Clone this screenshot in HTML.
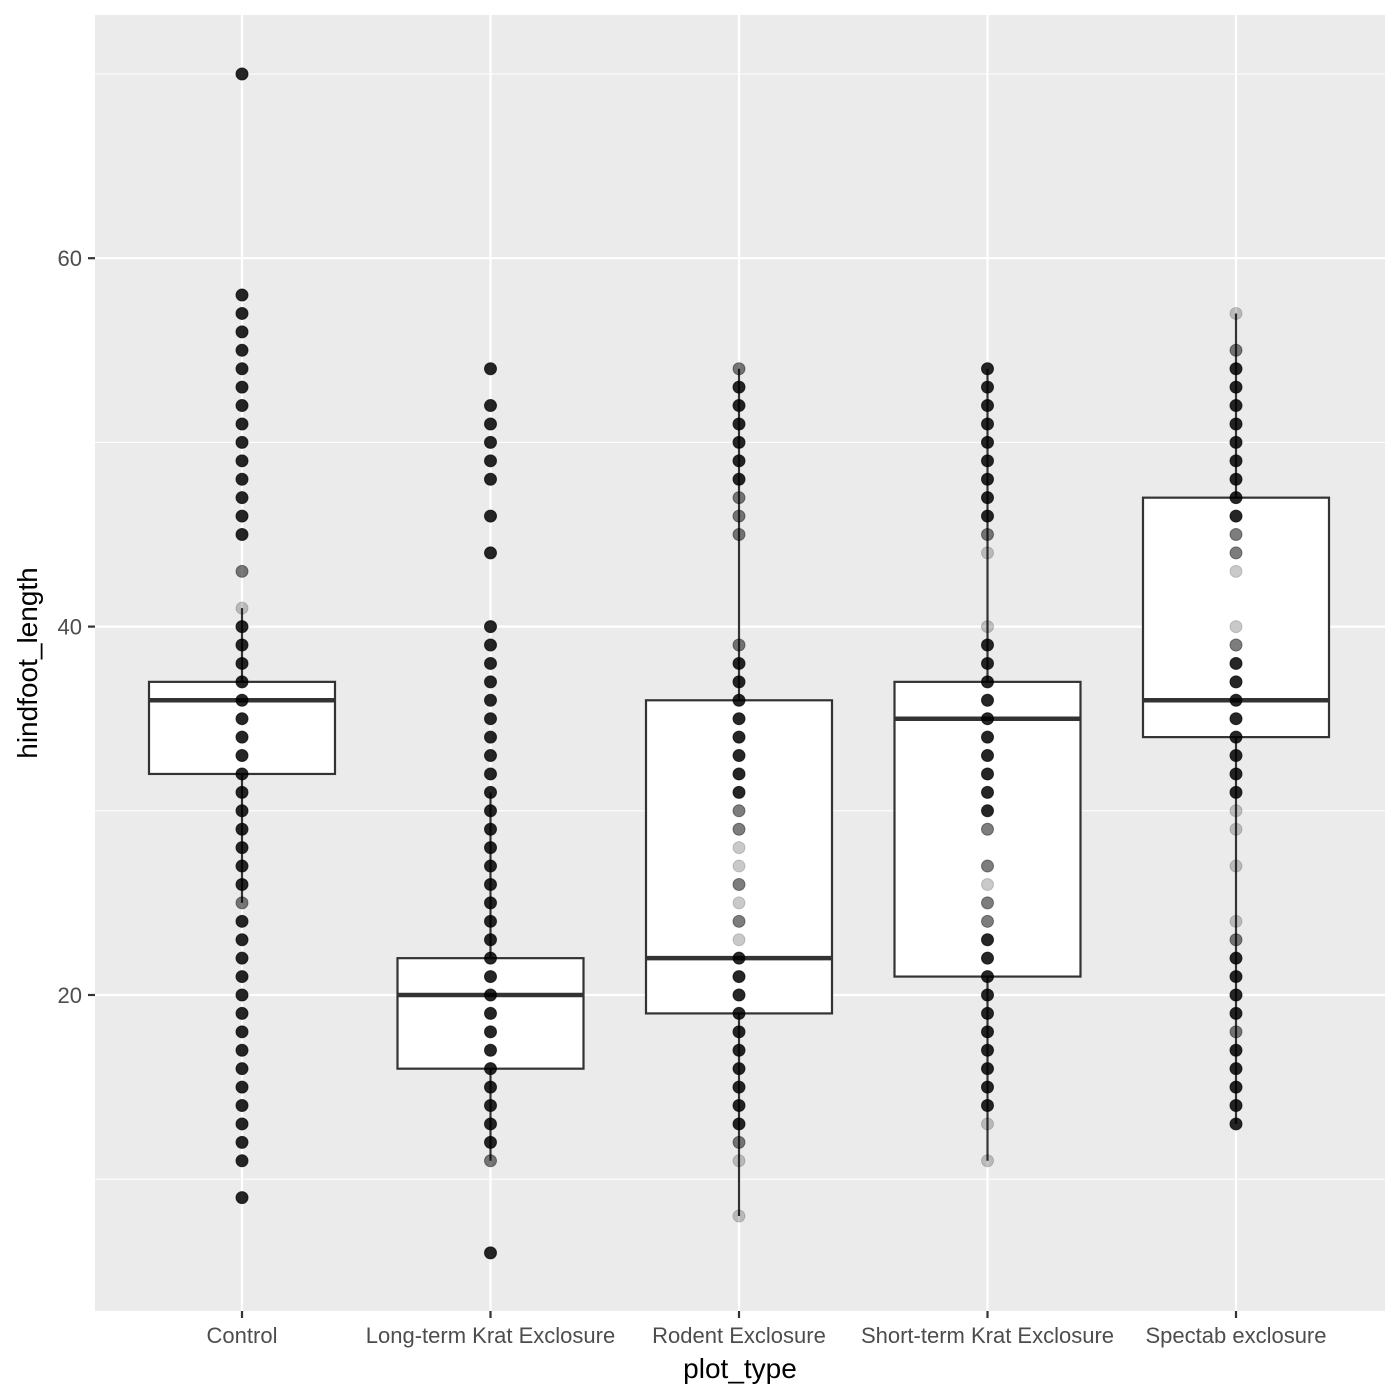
<!DOCTYPE html>
<html><head><meta charset="utf-8"><style>body{margin:0;background:#fff}svg{display:block;font-family:"Liberation Sans",sans-serif}</style></head>
<body>
<svg id="chart" width="1400" height="1400" xmlns="http://www.w3.org/2000/svg"></svg>
<script>
const categories=["Control","Long-term Krat Exclosure","Rodent Exclosure","Short-term Krat Exclosure","Spectab exclosure"];
const q1=[32,16,19,21,34];
const medians=[36,20,22,35,36];
const q3=[37,22,36,37,47];
const whiskerLow=[25,11,8,11,13];
const whiskerHigh=[41,31,54,54,57];
const yTicks=[20,40,60];
const yMinor=[10,30,50,70];
// points: [category index, value, opacity]
const ptsControl=[[70,1],[58,1],[57,1],[56,1],[55,1],[54,1],[53,1],[52,1],[51,1],[50,1],[49,1],[48,1],[47,1],[46,1],[45,1],[43,.6],[41,.25],[40,1],[39,1],[38,1],[37,1],[36,1],[35,1],[34,1],[33,1],[32,1],[31,1],[30,1],[29,1],[28,1],[27,1],[26,1],[25,.6],[24,1],[23,1],[22,1],[21,1],[20,1],[19,1],[18,1],[17,1],[16,1],[15,1],[14,1],[13,1],[12,1],[11,1],[9,1]];
const ptsLong=[[54,1],[52,1],[51,1],[50,1],[49,1],[48,1],[46,1],[44,1],[40,1],[39,1],[38,1],[37,1],[36,1],[35,1],[34,1],[33,1],[32,1],[31,1],[30,1],[29,1],[28,1],[27,1],[26,1],[25,1],[24,1],[23,1],[22,1],[21,1],[20,1],[19,1],[18,1],[17,1],[16,1],[15,1],[14,1],[13,1],[12,1],[11,.6],[6,1]];
const ptsRodent=[[54,.6],[53,1],[52,1],[51,1],[50,1],[49,1],[48,1],[47,.6],[46,.6],[45,.6],[39,.6],[38,1],[37,1],[36,1],[35,1],[34,1],[33,1],[32,1],[31,1],[30,.6],[29,.6],[28,.25],[27,.25],[26,.6],[25,.25],[24,.6],[23,.25],[22,1],[21,1],[20,1],[19,1],[18,1],[17,1],[16,1],[15,1],[14,1],[13,1],[12,.6],[11,.25],[8,.25]];
const ptsShort=[[54,1],[53,1],[52,1],[51,1],[50,1],[49,1],[48,1],[47,1],[46,1],[45,.6],[44,.25],[40,.25],[39,1],[38,1],[37,1],[36,1],[35,1],[34,1],[33,1],[32,1],[31,1],[30,1],[29,.6],[27,.6],[26,.25],[25,.6],[24,.6],[23,1],[22,1],[21,1],[20,1],[19,1],[18,1],[17,1],[16,1],[15,1],[14,1],[13,.25],[11,.25]];
const ptsSpectab=[[57,.25],[55,.6],[54,1],[53,1],[52,1],[51,1],[50,1],[49,1],[48,1],[47,1],[46,1],[45,.6],[44,.6],[43,.25],[40,.25],[39,.6],[38,1],[37,1],[36,1],[35,1],[34,1],[33,1],[32,1],[31,1],[30,.25],[29,.25],[27,.25],[24,.25],[23,.6],[22,1],[21,1],[20,1],[19,1],[18,.6],[17,1],[16,1],[15,1],[14,1],[13,1]];
const points=[ptsControl,ptsLong,ptsRodent,ptsShort,ptsSpectab];

const svg=document.getElementById('chart');const NS="http://www.w3.org/2000/svg";
const L=95,R=1385,T=15,B=1311;
const y=v=>995-(v-20)*18.42;
const x=i=>242+i*248.5;
function mk(t,a,p){const e=document.createElementNS(NS,t);for(const k in a)e.setAttribute(k,a[k]);(p||svg).appendChild(e);return e;}
const panel=mk('rect',{x:L,y:T,width:R-L,height:B-T,fill:'#ebebeb'});


yMinor.forEach(v=>{const l=mk('line',{x1:L,x2:R,y1:y(v),y2:y(v),stroke:'#fff','stroke-width':1.1});

});
yTicks.forEach(v=>{const l=mk('line',{x1:L,x2:R,y1:y(v),y2:y(v),stroke:'#fff','stroke-width':2.2});


const t=mk('line',{x1:88,x2:95,y1:y(v),y2:y(v),stroke:'#333','stroke-width':2.2});


const tx=mk('text',{x:82,y:y(v)+8,'text-anchor':'end','font-size':22,fill:'#4d4d4d'});tx.textContent=v;

});
categories.forEach((c,i)=>{const l=mk('line',{x1:x(i),x2:x(i),y1:T,y2:B,stroke:'#fff','stroke-width':2.2});


const t=mk('line',{x1:x(i),x2:x(i),y1:B,y2:B+7,stroke:'#333','stroke-width':2.2});


const tx=mk('text',{x:x(i),y:1343,'text-anchor':'middle','font-size':22,fill:'#4d4d4d'});tx.textContent=c;

});
categories.forEach((c,i)=>{const g=mk('g',{});


const hw=93;
mk('line',{x1:x(i),x2:x(i),y1:y(whiskerHigh[i]),y2:y(q3[i]),stroke:'#333','stroke-width':2.2},g);
mk('line',{x1:x(i),x2:x(i),y1:y(q1[i]),y2:y(whiskerLow[i]),stroke:'#333','stroke-width':2.2},g);
mk('rect',{x:x(i)-hw,y:y(q3[i]),width:2*hw,height:y(q1[i])-y(q3[i]),fill:'#fff',stroke:'#333','stroke-width':2.2},g);
mk('line',{x1:x(i)-hw,x2:x(i)+hw,y1:y(medians[i]),y2:y(medians[i]),stroke:'#333','stroke-width':4.5},g);});
points.forEach((arr,i)=>arr.forEach(p=>{const c=mk('circle',{cx:x(i),cy:y(p[0]),r:6,fill:'#000','fill-opacity':p[1]*0.85,stroke:'#000','stroke-opacity':p[1]*0.7});

}));
const xt=mk('text',{x:740,y:1378,'text-anchor':'middle','font-size':28,fill:'#000'});xt.textContent='plot_type';


const yt=mk('text',{x:0,y:0,'text-anchor':'middle','font-size':28,fill:'#000',transform:'translate(37,663) rotate(-90)'});yt.textContent='hindfoot_length';


</script>
</body></html>
